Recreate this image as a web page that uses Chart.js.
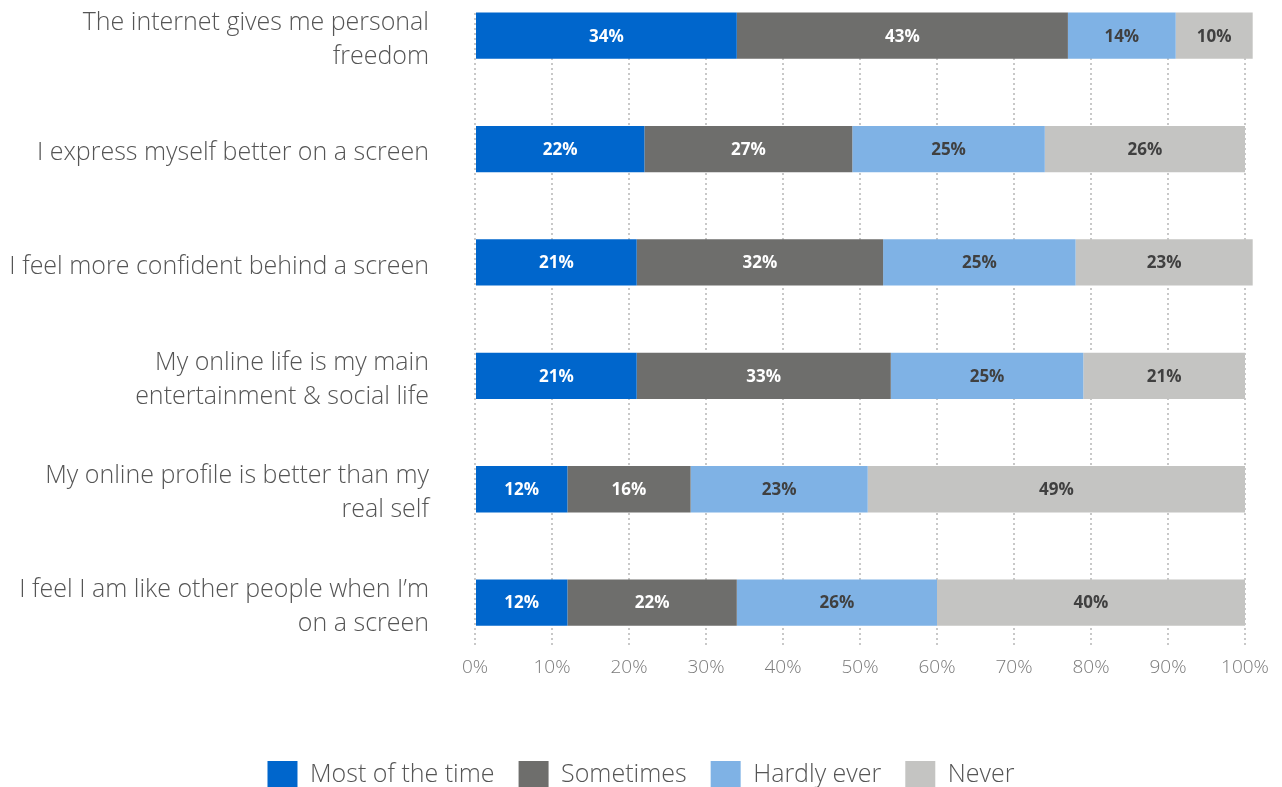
<!DOCTYPE html>
<html lang="en">
<head>
  <meta charset="UTF-8">
  <script src="https://cdn.jsdelivr.net/npm/chart.js"></script>
  <title>Screen attitudes</title>
  <style>
    html, body { margin: 0; padding: 0; background: #fff; }
    #wrap { width: 1282px; height: 787px; }
  </style>
</head>
<body>
  <div id="wrap"><canvas id="grafico"></canvas></div>

  <script>
    const categorias = [
      ['The internet gives me personal', 'freedom'],
      'I express myself better on a screen',
      'I feel more confident behind a screen',
      ['My online life is my main', 'entertainment & social life'],
      ['My online profile is better than my', 'real self'],
      ['I feel I am like other people when I\u2019m', 'on a screen']
    ];
    const series = ['Most of the time', 'Sometimes', 'Hardly ever', 'Never'];
    const mostOfTheTime = [34, 22, 21, 21, 12, 12];
    const sometimes     = [43, 27, 32, 33, 16, 22];
    const hardlyEver    = [14, 25, 25, 25, 23, 26];
    const never         = [10, 26, 23, 21, 49, 40];
    const xTicks = [0, 10, 20, 30, 40, 50, 60, 70, 80, 90, 100];

    const colores = ['#0066cc', '#6e6e6c', '#7fb2e5', '#c4c4c2'];
    const colorEtiqueta = ['#ffffff', '#ffffff', '#404040', '#404040'];
    const valores = [mostOfTheTime, sometimes, hardlyEver, never];

    // etiquetas de porcentaje dentro de cada segmento
    const etiquetas = {
      id: 'etiquetas',
      afterDatasetsDraw(chart) {
        const ctx = chart.ctx;
        ctx.save();
        ctx.font = 'bold 17px "Open Sans"';
        ctx.textAlign = 'center';
        ctx.textBaseline = 'middle';
        chart.data.datasets.forEach((ds, i) => {
          const meta = chart.getDatasetMeta(i);
          meta.data.forEach((bar, j) => {
            ctx.fillStyle = colorEtiqueta[i];
            ctx.fillText(ds.data[j].x + '%', (bar.x + bar.base) / 2, bar.y + 1);
          });
        });
        ctx.restore();
      }
    };

    // centrar la leyenda en todo el ancho del lienzo
    const leyendaCentrada = {
      id: 'leyendaCentrada',
      afterLayout(chart) {
        if (chart.legend) {
          chart.legend.left = 0;
          chart.legend.right = chart.width;
          chart.legend.width = chart.width;
        }
      }
    };

    new Chart(document.getElementById('grafico'), {
      type: 'bar',
      data: {
        datasets: valores.map((v, i) => ({
          label: series[i],
          data: v.map((x, j) => ({ x: x, y: j })),
          backgroundColor: colores[i],
          borderWidth: 0,
          barPercentage: 0.408,
          categoryPercentage: 1,
          clip: false
        }))
      },
      options: {
        indexAxis: 'y',
        responsive: true,
        maintainAspectRatio: false,
        animation: false,
        layout: { padding: { top: 13, right: 37, bottom: -12, left: 0 } },
        scales: {
          x: {
            stacked: true,
            min: 0,
            max: 100,
            afterBuildTicks: s => { s.ticks = xTicks.map(v => ({ value: v })); },
            afterFit: s => { s.height = 89; },
            grid: { color: '#c8c8c8', lineWidth: 2, drawTicks: false },
            border: { display: false, dash: [2, 3] },
            ticks: {
              padding: 8,
              color: '#7a7a7a',
              font: { family: 'Open Sans', size: 19, weight: 300 },
              callback: v => v + '%'
            }
          },
          y: {
            type: 'linear',
            stacked: true,
            reverse: true,
            offset: false,
            min: -0.2,
            max: 5.4,
            afterBuildTicks: s => { s.ticks = categorias.map((c, i) => ({ value: i })); },
            afterFit: s => { s.width = 475; s.paddingTop = 0; s.paddingBottom = 0; },
            grid: { display: false, offset: false },
            border: { display: false },
            ticks: {
              padding: 38,
              labelOffset: 4,
              color: '#555555',
              font: { family: 'Open Sans', size: 25, weight: 300, lineHeight: 1.36 },
              callback: v => categorias[v]
            }
          }
        },
        plugins: {
          legend: {
            position: 'bottom',
            labels: {
              boxWidth: 30,
              boxHeight: 28,
              padding: 24,
              color: '#555555',
              font: { family: 'Open Sans', size: 25, weight: 300 }
            }
          },
          tooltip: { enabled: false }
        }
      },
      plugins: [etiquetas, leyendaCentrada]
    });
  </script>
</body>
</html>
